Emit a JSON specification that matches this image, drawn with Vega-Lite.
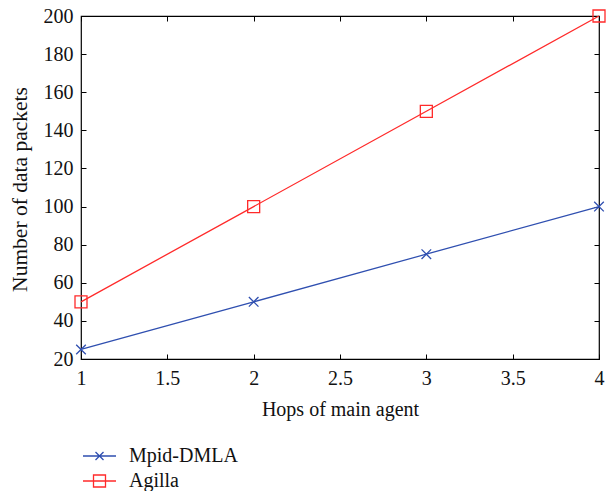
{
  "$schema": "https://vega.github.io/schema/vega-lite/v6.json",
  "autosize": "none",
  "padding": {"left": 81, "top": 16, "right": 11, "bottom": 132},
  "width": 518,
  "height": 343,
  "background": "white",
  "config": {
    "font": "Liberation Serif",
    "view": {"stroke": "black", "strokeWidth": 1.2},
    "axis": {
      "labelFont": "Liberation Serif",
      "titleFont": "Liberation Serif",
      "labelFontSize": 20,
      "titleFontSize": 20,
      "labelColor": "#111",
      "titleColor": "#111",
      "titleFontWeight": "normal",
      "grid": false,
      "domain": false,
      "tickColor": "black",
      "tickSize": -5,
      "tickWidth": 1
    },
    "legend": {
      "labelFont": "Liberation Serif",
      "labelFontSize": 20,
      "labelColor": "#111"
    }
  },
  "data": {
    "values": [
      {"hops": 1, "packets": 25, "series": "Mpid-DMLA", "marker": "cross"},
      {"hops": 2, "packets": 50, "series": "Mpid-DMLA", "marker": "cross"},
      {"hops": 3, "packets": 75, "series": "Mpid-DMLA", "marker": "cross"},
      {"hops": 4, "packets": 100, "series": "Mpid-DMLA", "marker": "cross"},
      {"hops": 1, "packets": 50, "series": "Agilla", "marker": "square"},
      {"hops": 2, "packets": 100, "series": "Agilla", "marker": "square"},
      {"hops": 3, "packets": 150, "series": "Agilla", "marker": "square"},
      {"hops": 4, "packets": 200, "series": "Agilla", "marker": "square"}
    ]
  },
  "layer": [
    {
      "mark": {"type": "line", "strokeWidth": 1.3},
      "encoding": {
        "x": {"field": "hops", "type": "quantitative", "scale": {"domain": [1, 4], "nice": false, "zero": false},
              "axis": {"title": "Hops of main agent", "values": [1, 1.5, 2, 2.5, 3, 3.5, 4], "format": "~g", "labelPadding": 14, "labelFlush": false, "titleY": 50, "titleBaseline": "middle"}},
        "y": {"field": "packets", "type": "quantitative", "scale": {"domain": [20, 200], "nice": false, "zero": false},
              "axis": {"title": "Number of data packets", "values": [20, 40, 60, 80, 100, 120, 140, 160, 180, 200], "labelPadding": 13, "labelFlush": false, "titleX": -61, "titleY": 173, "titleBaseline": "middle", "titleFontSize": 21.5}},
        "color": {"field": "series", "type": "nominal",
                  "scale": {"domain": ["Mpid-DMLA", "Agilla"], "range": ["#2f4fb0", "#ff2a2a"]},
                  "legend": {"title": null, "orient": "none", "legendX": 7.5, "legendY": 429, "symbolSize": 400, "symbolStrokeWidth": 1.3, "symbolFillColor": "transparent", "rowPadding": 4, "labelOffset": 18.5,
                             "encode": {"symbols": {"update": {"shape": {"signal": "datum.value === 'Agilla' ? 'M-1.65,0H1.65M-0.6,-0.6H0.6V0.6H-0.6Z' : 'M-1.65,0H1.65M-0.4,-0.4L0.4,0.4M-0.4,0.4L0.4,-0.4'"}, "fill": {"value": "transparent"}, "strokeWidth": {"value": 1.3}}}}}}
      }
    },
    {
      "mark": {"type": "point", "filled": false, "strokeWidth": 1.3, "opacity": 1},
      "encoding": {
        "x": {"field": "hops", "type": "quantitative", "axis": null},
        "y": {"field": "packets", "type": "quantitative", "axis": null},
        "stroke": {"field": "marker", "type": "nominal",
                   "scale": {"domain": ["cross", "square"], "range": ["#2f4fb0", "#ff2a2a"]},
                   "legend": null},
        "shape": {"field": "marker", "type": "nominal",
                  "scale": {"domain": ["cross", "square"], "range": ["M-0.8,-0.8L0.8,0.8M-0.8,0.8L0.8,-0.8", "square"]},
                  "legend": null},
        "size": {"value": 144}
      }
    },
    {
      "mark": {"type": "point", "opacity": 0},
      "encoding": {
        "x": {"field": "hops", "type": "quantitative", "axis": {"orient": "top", "labels": false, "title": null, "values": [1, 1.5, 2, 2.5, 3, 3.5, 4]}},
        "y": {"field": "packets", "type": "quantitative", "axis": {"orient": "right", "labels": false, "title": null, "values": [20, 40, 60, 80, 100, 120, 140, 160, 180, 200]}}
      }
    }
  ],
  "resolve": {"axis": {"x": "independent", "y": "independent"}}
}
